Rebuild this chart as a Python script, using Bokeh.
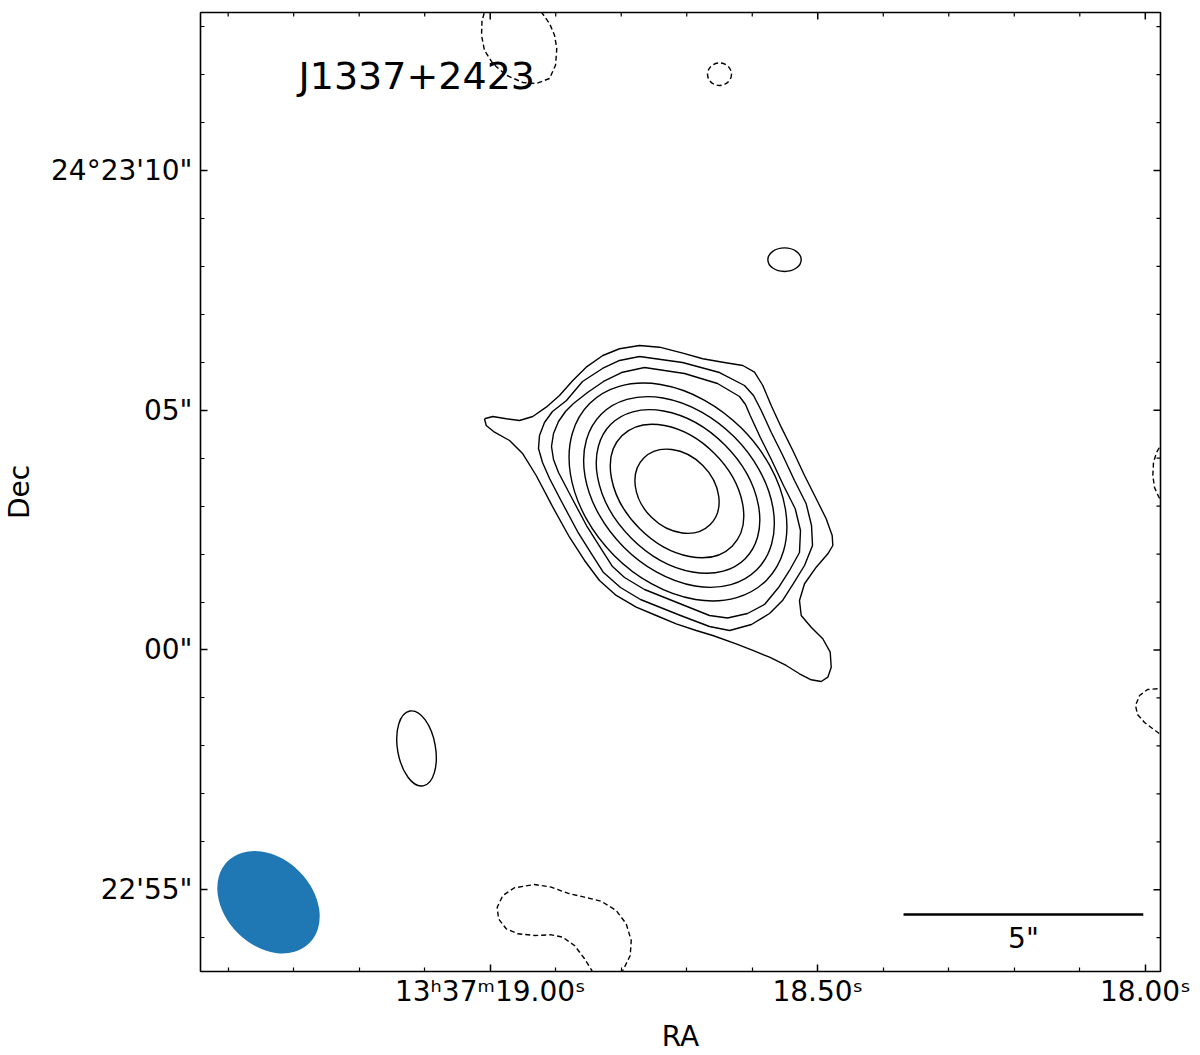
import math
from bokeh.plotting import figure
from bokeh.models import Range1d, LinearAxis, FixedTicker, Label, CustomJSTickFormatter
from bokeh.embed import file_html
from bokeh.resources import INLINE

# ---------------- data (offsets in arcsec from 13h37m19.00s, +24d23'00") ----------------
DEC0_DEG = 24 + 23 / 60
ARCSEC_PER_S = 15 * math.cos(math.radians(DEC0_DEG))
RA_REF_S = 19.00

ra_major_s = [19.00, 18.50, 18.00]
ra_major_labels = ["13ʰ37ᵐ19.00ˢ", "18.50ˢ", "18.00ˢ"]
ra_minor_s = [19.4, 19.3, 19.2, 19.1, 18.9, 18.8, 18.7, 18.6, 18.4, 18.3, 18.2, 18.1]
dec_major = [-5, 0, 5, 10]
dec_major_labels = ["22'55\"", "00\"", "05\"", "24°23'10\""]
dec_minor = [-6, -4, -3, -2, -1, 1, 2, 3, 4, 6, 7, 8, 9, 11, 12, 13]

title_text = "J1337+2423"
scalebar_len = 5.0
scalebar_label = "5\""

# outermost positive contour (arcsec)
c1_x = [-0.119, 0.054, 0.334, 0.611, 0.888, 1.168, 1.445, 1.723, 2.002, 2.348, 2.697, 3.114,
        3.531, 4.017, 4.434, 4.851, 5.268, 5.512, 5.685, 5.860, 6.069, 6.311, 6.555, 6.799,
        7.007, 7.132, 7.145, 7.041, 6.799, 6.555, 6.450, 6.486, 6.694, 6.936, 7.091, 7.112,
        7.041, 6.903, 6.694, 6.450, 6.173, 5.825, 5.477, 5.130, 4.642, 4.296, 3.879, 3.462,
        3.045, 2.628, 2.279, 1.967, 1.654, 1.306, 0.959, 0.680, 0.403, 0.090, -0.083, -0.119]
c1_y = [4.822, 4.870, 4.822, 4.786, 4.870, 5.064, 5.308, 5.620, 5.898, 6.142, 6.282, 6.350,
        6.315, 6.190, 6.073, 6.002, 5.933, 5.793, 5.516, 5.099, 4.647, 4.161, 3.639, 3.153,
        2.736, 2.388, 2.179, 2.006, 1.727, 1.381, 1.032, 0.719, 0.475, 0.234, -0.046, -0.359,
        -0.567, -0.657, -0.621, -0.496, -0.323, -0.150, -0.010, 0.129, 0.302, 0.407, 0.546, 0.719,
        0.893, 1.137, 1.449, 1.867, 2.352, 2.978, 3.639, 4.092, 4.369, 4.542, 4.682, 4.822]

# second and third positive contours (arcsec)
c2_x = [3.114, 4.010, 4.782, 5.303, 5.491, 5.652, 5.860, 6.102, 6.346, 6.590, 6.701, 6.722,
        6.555, 6.325, 6.096, 5.825, 5.449, 4.991, 4.573, 3.969, 3.134, 2.717, 2.363, 2.133,
        1.821, 1.487, 1.237, 1.091, 1.007, 1.028, 1.132, 1.299, 1.591, 1.925, 2.342, 2.697, 3.114]
c2_y = [6.121, 5.996, 5.787, 5.516, 5.308, 4.995, 4.542, 4.056, 3.535, 3.049, 2.596, 2.179,
        1.762, 1.387, 1.032, 0.761, 0.532, 0.407, 0.490, 0.719, 1.053, 1.303, 1.616, 1.971,
        2.471, 3.097, 3.577, 3.910, 4.202, 4.473, 4.745, 4.974, 5.203, 5.600, 5.871, 6.038, 6.121]
c3_x = [3.218, 4.052, 4.740, 5.199, 5.324, 5.422, 5.631, 5.873, 6.117, 6.361, 6.471, 6.450,
        6.242, 6.013, 5.721, 5.366, 4.949, 4.573, 4.052, 3.218, 2.801, 2.551, 2.321, 2.008,
        1.675, 1.424, 1.320, 1.278, 1.320, 1.424, 1.570, 1.737, 2.029, 2.363, 2.738, 3.218]
c3_y = [5.892, 5.766, 5.558, 5.287, 5.120, 4.891, 4.438, 3.952, 3.431, 2.945, 2.492, 2.033,
        1.658, 1.303, 0.949, 0.761, 0.667, 0.719, 0.928, 1.262, 1.512, 1.741, 2.096, 2.596,
        3.222, 3.702, 3.973, 4.244, 4.515, 4.765, 4.974, 5.141, 5.370, 5.600, 5.787, 5.892]

# inner positive contours (ellipse fits: centre, full axes, angle in degrees)
inner_x = [3.916, 3.937, 3.917, 3.896, 3.896]
inner_y = [3.295, 3.295, 3.306, 3.316, 3.310]
inner_w = [5.214, 4.588, 3.962, 3.253, 1.960]
inner_h = [3.754, 3.254, 2.753, 2.211, 1.522]
inner_angle = [-45, -45, -45, -45, -45]

# small positive islands
island_x = [6.138, -1.537]
island_y = [8.140, -2.054]
island_w = [0.695, 1.585]
island_h = [0.494, 0.790]
island_angle = [0, 100]

# negative contours (dashed)
neg_top_x = [-0.077, -0.171, -0.181, -0.119, 0.054, 0.334, 0.680, 0.959, 1.237, 1.362, 1.389,
             1.341, 1.237, 1.064, 0.966]
neg_top_y = [13.441, 13.128, 12.815, 12.503, 12.231, 11.988, 11.835, 11.814, 11.919, 12.196,
             12.544, 12.821, 13.066, 13.310, 13.441]
neg_bot_x = [2.175, 2.119, 1.967, 1.758, 1.514, 1.272, 0.924, 0.576, 0.334, 0.173, 0.146, 0.263,
             0.507, 0.924, 1.272, 1.618, 1.967, 2.315, 2.628, 2.836, 2.941, 2.920, 2.801, 2.676]
neg_bot_y = [-6.893, -6.684, -6.440, -6.163, -5.990, -5.940, -5.954, -5.919, -5.814, -5.606,
             -5.364, -5.120, -4.959, -4.891, -4.945, -5.072, -5.155, -5.239, -5.433, -5.710,
             -6.058, -6.371, -6.615, -6.851]
neg_r1_x = [14.021, 13.979, 13.896, 13.833, 13.819, 13.854, 13.938, 14.021]
neg_r1_y = [4.369, 4.265, 4.119, 3.910, 3.639, 3.389, 3.201, 3.055]
neg_r2_x = [14.084, 13.917, 13.709, 13.542, 13.458, 13.500, 13.646, 13.812, 13.979, 14.104]
neg_r2_y = [-0.803, -0.809, -0.824, -0.949, -1.158, -1.345, -1.512, -1.637, -1.762, -1.867]
neg_ell_x = [4.782]
neg_ell_y = [12.008]
neg_ell_w = [0.50]
neg_ell_h = [0.47]

# restoring beam
beam_x = [-4.624]
beam_y = [-5.260]
beam_major = [2.413]
beam_minor = [1.817]
beam_angle = [-45]

# map extent
X_MIN, X_MAX = -6.042, 13.979
Y_MIN, Y_MAX = -6.705, 13.295

# ---------------- figure ----------------
FONT = "DejaVu Sans"
FRAME_W, FRAME_H = 960, 959


def ra_off(s):
    return (RA_REF_S - s) * ARCSEC_PER_S


p = figure(frame_width=FRAME_W, frame_height=FRAME_H,
           x_range=Range1d(X_MIN, X_MAX), y_range=Range1d(Y_MIN, Y_MAX),
           output_backend="svg", toolbar_location=None,
           x_axis_location=None, y_axis_location=None,
           min_border_left=193, min_border_right=36, min_border_top=12, min_border_bottom=60,
           background_fill_color="white", border_fill_color="white")
p.xgrid.grid_line_color = None
p.ygrid.grid_line_color = None
p.outline_line_color = "black"
p.outline_line_width = 1.6

xt_major = [ra_off(s) for s in ra_major_s]
xt_minor = [ra_off(s) for s in ra_minor_s]
x_ticker = FixedTicker(ticks=xt_major, minor_ticks=xt_minor)
y_ticker = FixedTicker(ticks=dec_major, minor_ticks=dec_minor)

js_code = """
for (let i = 0; i < major_vals.length; i++) {
  if (Math.abs(tick - major_vals[i]) < 1e-6) { return major_text[i]; }
}
return '';
"""
x_fmt = CustomJSTickFormatter(args=dict(major_vals=xt_major, major_text=ra_major_labels), code=js_code)
y_fmt = CustomJSTickFormatter(args=dict(major_vals=[float(v) for v in dec_major], major_text=dec_major_labels),
                              code=js_code)

MAJ_LEN, MIN_LEN = 7, 4


def style_axis(ax):
    ax.major_tick_in = MAJ_LEN
    ax.major_tick_out = 0
    ax.minor_tick_in = MIN_LEN
    ax.minor_tick_out = 0
    ax.major_tick_line_width = 1.5
    ax.minor_tick_line_width = 1.2
    ax.major_tick_line_color = "black"
    ax.minor_tick_line_color = "black"
    ax.axis_line_color = None
    ax.major_label_text_font = FONT
    ax.major_label_text_font_size = "28px"
    ax.major_label_text_color = "black"
    ax.axis_label_text_font = FONT
    ax.axis_label_text_font_size = "28px"
    ax.axis_label_text_font_style = "normal"
    ax.axis_label_text_color = "black"


xb = LinearAxis(ticker=x_ticker, formatter=x_fmt, axis_label="RA")
style_axis(xb)
xb.major_label_standoff = 3
xb.axis_label_standoff = 9
p.add_layout(xb, "below")

yl = LinearAxis(ticker=y_ticker, formatter=y_fmt, axis_label="Dec")
style_axis(yl)
yl.major_label_standoff = 8
yl.axis_label_standoff = 12
p.add_layout(yl, "left")

# mirrored inward ticks on the top and right edges (no labels)
px_x = FRAME_W / (X_MAX - X_MIN)
px_y = FRAME_H / (Y_MAX - Y_MIN)
for ticks, length, lw in [(xt_major, MAJ_LEN, 1.5), (xt_minor, MIN_LEN, 1.2)]:
    p.segment(x0=ticks, y0=[Y_MAX] * len(ticks), x1=ticks, y1=[Y_MAX - length / px_y] * len(ticks),
              line_color="black", line_width=lw)
for ticks, length, lw in [(dec_major, MAJ_LEN, 1.5), (dec_minor, MIN_LEN, 1.2)]:
    p.segment(x0=[X_MAX] * len(ticks), y0=ticks, x1=[X_MAX - length / px_x] * len(ticks), y1=ticks,
              line_color="black", line_width=lw)

LW = 1.4
# beam
p.ellipse(x=beam_x, y=beam_y, width=beam_major, height=beam_minor, angle=beam_angle,
          angle_units="deg", fill_color="#1f77b4", line_color=None)

# positive contours
for cx, cy in [(c1_x, c1_y), (c2_x, c2_y), (c3_x, c3_y)]:
    p.line(cx, cy, line_color="black", line_width=LW, line_join="round")
p.ellipse(x=inner_x, y=inner_y, width=inner_w, height=inner_h, angle=inner_angle,
          angle_units="deg", fill_color=None, line_color="black", line_width=LW)
p.ellipse(x=island_x, y=island_y, width=island_w, height=island_h, angle=island_angle,
          angle_units="deg", fill_color=None, line_color="black", line_width=LW)

# negative contours
for nx, ny in [(neg_top_x, neg_top_y), (neg_bot_x, neg_bot_y), (neg_r1_x, neg_r1_y), (neg_r2_x, neg_r2_y)]:
    p.line(nx, ny, line_color="black", line_width=LW, line_dash="5 3", line_join="round")
p.ellipse(x=neg_ell_x, y=neg_ell_y, width=neg_ell_w, height=neg_ell_h, fill_color=None,
          line_color="black", line_width=LW, line_dash="5 3")

# scale bar
sb_x1 = 13.62
sb_y = -5.516
p.line([sb_x1 - scalebar_len, sb_x1], [sb_y, sb_y], line_color="black", line_width=2.5)
p.add_layout(Label(x=sb_x1 - scalebar_len / 2, y=-6.016, text=scalebar_label, text_font=FONT,
                   text_font_size="28px", text_align="center", text_baseline="alphabetic",
                   text_color="black"))

# title
p.add_layout(Label(x=-3.997, y=11.981, text=title_text, text_font=FONT, text_font_size="38px",
                   text_align="left", text_baseline="alphabetic", text_color="black"))

open("out.html", "w").write(file_html(p, INLINE))
